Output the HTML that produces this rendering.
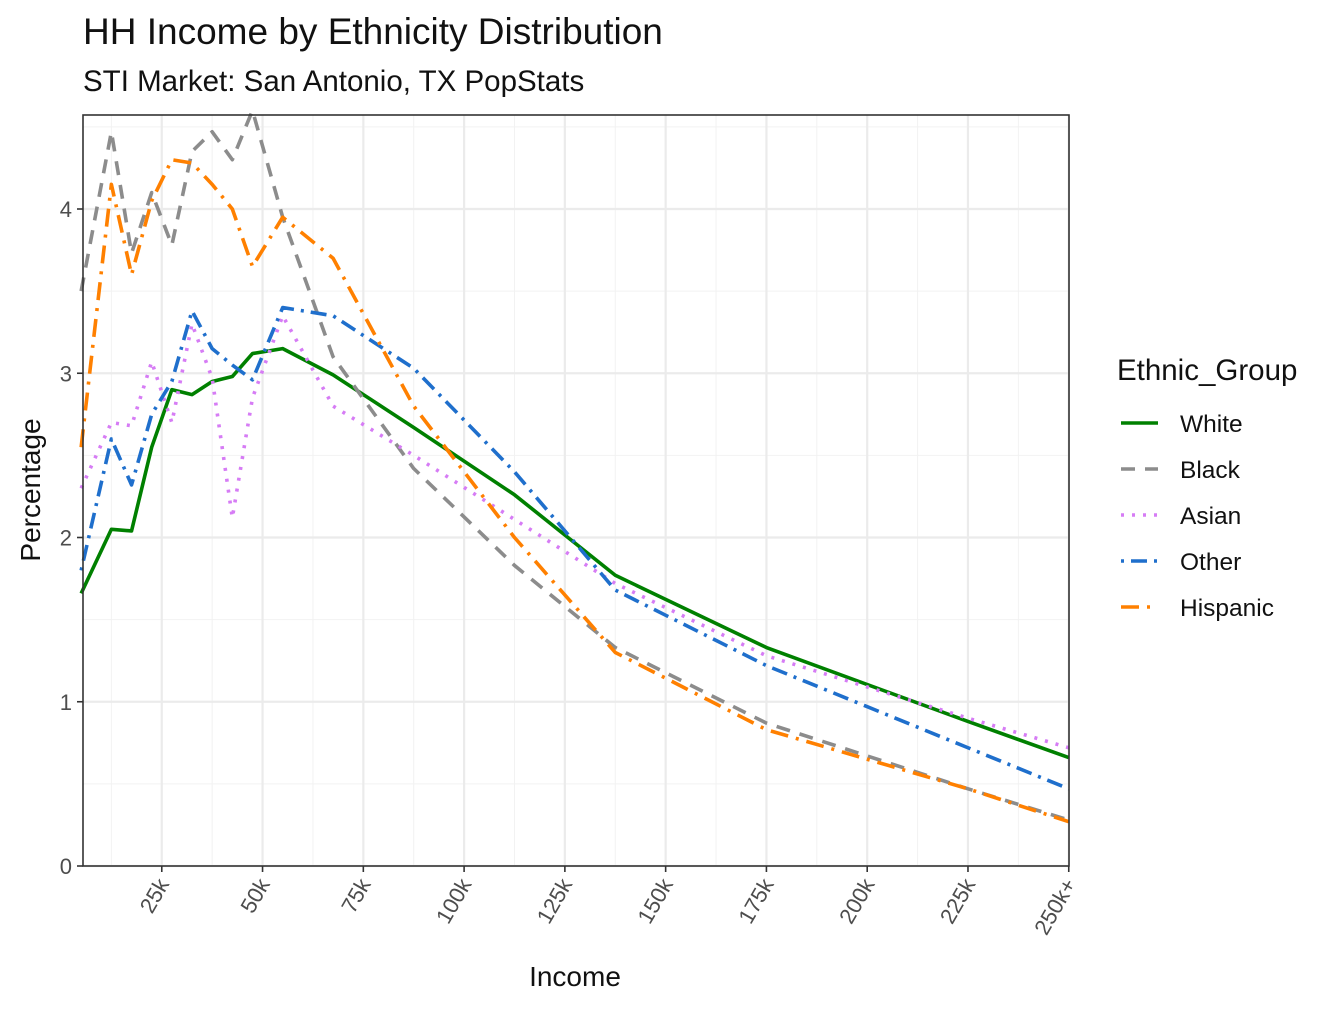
<!DOCTYPE html>
<html><head><meta charset="utf-8"><style>
body{margin:0;background:#fff;font-family:"Liberation Sans",Arial,sans-serif}
</style></head><body>
<svg id="chart" width="1344" height="1008" xmlns="http://www.w3.org/2000/svg" font-family="Liberation Sans, Arial, sans-serif">
<rect width="1344" height="1008" fill="#fff"/>
<text x="83" y="44" font-size="37" fill="#111">HH Income by Ethnicity Distribution</text>
<text x="83" y="91" font-size="29.5" fill="#111">STI Market: San Antonio, TX PopStats</text>
<g id="grid"></g><g id="series"></g>
<rect x="83" y="115" width="986" height="751" fill="none" stroke="#333" stroke-width="1.6"/>
<g id="axes"></g>
<text transform="translate(40,490) rotate(-90)" text-anchor="middle" font-size="28" fill="#111">Percentage</text>
<text x="575" y="986" text-anchor="middle" font-size="28" fill="#111">Income</text>
<g id="legend"></g>
</svg>
<script>
const categories=[5,12.5,17.5,22.5,27.5,32.5,37.5,42.5,47.5,55,67.5,87.5,112.5,137.5,175,225,250];
const white=[1.66,2.05,2.04,2.55,2.9,2.87,2.95,2.98,3.12,3.15,2.99,2.67,2.26,1.77,1.33,0.88,0.66];
const black=[3.5,4.47,3.73,4.1,3.78,4.35,4.47,4.3,4.6,3.95,3.1,2.42,1.83,1.33,0.87,0.47,0.28];
const asian=[2.3,2.7,2.68,3.07,2.7,3.3,2.97,2.12,2.85,3.35,2.8,2.5,2.11,1.72,1.28,0.9,0.72];
const other=[1.8,2.6,2.32,2.75,2.95,3.38,3.15,3.05,2.96,3.4,3.35,3.03,2.4,1.68,1.22,0.72,0.47];
const hispanic=[2.55,4.15,3.6,4.05,4.3,4.28,4.15,4.0,3.65,3.95,3.7,2.8,2.0,1.3,0.83,0.47,0.27];
const yTicks=[0,1,2,3,4];
const xTicks=[25,50,75,100,125,150,175,200,225,250];
const xTickLabels=["25k","50k","75k","100k","125k","150k","175k","200k","225k","250k+"];
const seriesNames=["White","Black","Asian","Other","Hispanic"];
const NS="http://www.w3.org/2000/svg";
const X=k=>61+4.031*k, Y=v=>866-164.25*v;
function mk(tag,attrs,parent){const e=document.createElementNS(NS,tag);for(const a in attrs)e.setAttribute(a,attrs[a]);parent.appendChild(e);return e;}
const grid=document.getElementById('grid'),axes=document.getElementById('axes'),ser=document.getElementById('series'),leg=document.getElementById('legend');
for(let v=0.5;v<4.6;v+=1){const l=mk('line',{x1:83,x2:1069,y1:Y(v),y2:Y(v),stroke:'#f2f2f2','stroke-width':1},grid);

}
for(let k=12.5;k<250;k+=25){const l=mk('line',{x1:X(k),x2:X(k),y1:115,y2:866,stroke:'#f2f2f2','stroke-width':1},grid);

}
yTicks.forEach(v=>{const l=mk('line',{x1:83,x2:1069,y1:Y(v),y2:Y(v),stroke:'#ebebeb','stroke-width':2.2},grid);


const t=mk('line',{x1:77,x2:83,y1:Y(v),y2:Y(v),stroke:'#333','stroke-width':1.6},axes);


const tx=mk('text',{x:72,y:Y(v)+8,'text-anchor':'end','font-size':22,fill:'#4d4d4d'},axes);tx.textContent=v;

});
xTicks.forEach((k,i)=>{const l=mk('line',{x1:X(k),x2:X(k),y1:115,y2:866,stroke:'#ebebeb','stroke-width':2.2},grid);


const t=mk('line',{x1:X(k),x2:X(k),y1:866,y2:872,stroke:'#333','stroke-width':1.6},axes);


const tx=mk('text',{transform:`translate(${X(k)+8},${884}) rotate(-60)`,'text-anchor':'end','font-size':22,fill:'#4d4d4d'},axes);tx.textContent=xTickLabels[i];

});
const styles=[{c:'#008000',d:'none'},{c:'#8c8c8c',d:'14 10'},{c:'#d67cf5',d:'3 8'},{c:'#1f6fcc',d:'3 7 16 7'},{c:'#ff8000',d:'18 8 3 8'}];
const data=[white,black,asian,other,hispanic];
data.forEach((arr,s)=>{const p=mk('polyline',{points:arr.map((v,i)=>X(categories[i])+','+Y(v)).join(' '),fill:'none',stroke:styles[s].c,'stroke-width':3.6,'stroke-dasharray':styles[s].d,'stroke-linejoin':'round'},ser);

});
const lt=mk('text',{x:1117,y:380,'font-size':29.5,fill:'#111'},leg);lt.textContent='Ethnic_Group';


seriesNames.forEach((n,i)=>{const y=423+46*i;
const g=mk('g',{},leg);


mk('line',{x1:1121,x2:1158,y1:y,y2:y,stroke:styles[i].c,'stroke-width':3.6,'stroke-dasharray':styles[i].d},g);
const t=mk('text',{x:1180,y:y+9,'font-size':24.5,fill:'#111'},g);t.textContent=n;});
</script>
</body></html>
